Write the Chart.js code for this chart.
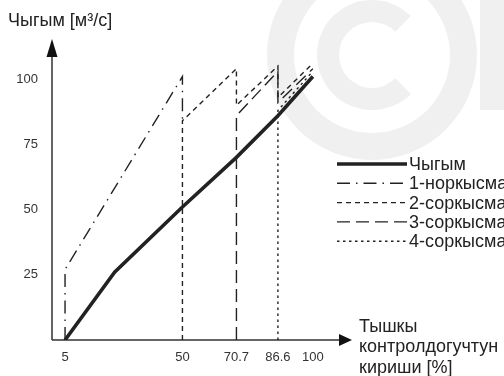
<!DOCTYPE html>
<html>
<head>
<meta charset="utf-8">
<script src="https://cdn.jsdelivr.net/npm/chart.js@4"></script>
<style>
  html, body { margin: 0; padding: 0; background: #fff; }
</style>
</head>
<body>
<canvas id="chart" width="504" height="376"></canvas>
<script>
// tick labels
const xTicks = [5, 50, 70.7, 86.6, 100];
const yTicks = [25, 50, 75, 100];

// series
const seriesNames = ['Чыгым', '1-норкысма', '2-соркысма', '3-соркысма', '4-соркысма'];
const flowX = [5, 24, 50, 70.7, 86.6, 100];
const flowY = [0, 26, 51, 70, 86, 101];
const normX = [5, 5, 50, 50];
const normY = [0, 27, 101, 84];
const sort2X = [50, 50, 70.7, 70.7, 86.6, 86.6, 100];
const sort2Y = [0, 84, 104, 90, 105, 93, 106];
const sort3X = [70.7, 70.7, 86.6, 86.6, 100];
const sort3Y = [0, 86, 103, 91, 104];
const sort4X = [86.6, 86.6, 100];
const sort4Y = [0, 88, 103];

const FONT = "'Liberation Sans', Arial, sans-serif";
const INK = '#222';

const toPoints = (xs, ys) => xs.map((x, i) => ({ x: x, y: ys[i] }));

const makeSet = (label, xs, ys, width, dash) => ({
    label: label,
    data: toPoints(xs, ys),
    showLine: true,
    borderColor: INK,
    borderWidth: width,
    borderDash: dash,
    borderCapStyle: 'butt',
    pointRadius: 0,
    tension: 0
});

// light grey logo in the background
const watermark = {
    id: 'watermark',
    beforeDraw(chart) {
        const ctx = chart.ctx;
        ctx.save();
        ctx.fillStyle = '#f0f0f0';
        ctx.beginPath();
        ctx.arc(372, 55, 105, 0, Math.PI * 2);
        ctx.arc(372, 55, 78, 0, Math.PI * 2, true);
        ctx.fill();
        ctx.beginPath();
        ctx.arc(372, 55, 55, Math.PI * 0.25, Math.PI * 1.75);
        ctx.arc(372, 55, 33, Math.PI * 1.75, Math.PI * 0.25, true);
        ctx.closePath();
        ctx.fill();
        ctx.fillRect(480, 0, 24, 110);
        ctx.restore();
    }
};

// axes with arrow heads
const arrowAxes = {
    id: 'arrowAxes',
    beforeDatasetsDraw(chart) {
        const ctx = chart.ctx;
        const xs = chart.scales.x;
        const ys = chart.scales.y;
        const x0 = xs.getPixelForValue(0);
        const y0 = ys.getPixelForValue(0);
        const xEnd = xs.getPixelForValue(115);
        const yEnd = ys.getPixelForValue(115);
        ctx.save();
        ctx.strokeStyle = '#333';
        ctx.fillStyle = '#111';
        ctx.lineWidth = 1.5;
        ctx.beginPath();
        ctx.moveTo(x0, y0);
        ctx.lineTo(xEnd - 10, y0);
        ctx.moveTo(x0, y0);
        ctx.lineTo(x0, yEnd + 14);
        ctx.stroke();
        ctx.beginPath();
        ctx.moveTo(xEnd, y0);
        ctx.lineTo(xEnd - 13, y0 - 6);
        ctx.lineTo(xEnd - 13, y0 + 6);
        ctx.closePath();
        ctx.fill();
        ctx.beginPath();
        ctx.moveTo(x0, yEnd - 1);
        ctx.lineTo(x0 - 5.5, yEnd + 17);
        ctx.lineTo(x0 + 5.5, yEnd + 17);
        ctx.closePath();
        ctx.fill();
        ctx.restore();
    }
};

// axis titles and legend
const labels = {
    id: 'labels',
    afterDraw(chart) {
        const ctx = chart.ctx;
        ctx.save();
        ctx.fillStyle = INK;
        ctx.textBaseline = 'middle';
        ctx.textAlign = 'left';
        ctx.font = '18px ' + FONT;
        ctx.fillText('Чыгым [м³/с]', 8, 21);
        ['Тышкы', 'контролдогучтун', 'кириши [%]'].forEach((t, i) => {
            ctx.fillText(t, 359, 327 + i * 20.5);
        });

        chart.data.datasets.forEach((ds, i) => {
            const y = 164 + i * 19.3;
            ctx.strokeStyle = ds.borderColor;
            ctx.lineWidth = ds.borderWidth;
            ctx.setLineDash(ds.borderDash || []);
            ctx.beginPath();
            ctx.moveTo(337, y);
            ctx.lineTo(407, y);
            ctx.stroke();
            ctx.fillText(ds.label, 409, y + 1);
        });
        ctx.restore();
    }
};

const tickFont = { family: FONT, size: 13 };

new Chart(document.getElementById('chart'), {
    type: 'scatter',
    data: {
        datasets: [
            makeSet(seriesNames[0], flowX, flowY, 3.6, []),
            makeSet(seriesNames[1], normX, normY, 1.4, [13, 6, 1.5, 6]),
            makeSet(seriesNames[2], sort2X, sort2Y, 1.4, [5, 4]),
            makeSet(seriesNames[3], sort3X, sort3Y, 1.4, [13, 6]),
            makeSet(seriesNames[4], sort4X, sort4Y, 1.4, [2.5, 3.5])
        ]
    },
    options: {
        responsive: false,
        animation: false,
        layout: { padding: { left: 0, top: 40, right: 152, bottom: 0 } },
        plugins: {
            legend: { display: false },
            tooltip: { enabled: false }
        },
        scales: {
            x: {
                type: 'linear',
                min: 0,
                max: 115,
                grid: { display: false, drawTicks: false },
                border: { display: false },
                afterBuildTicks: (s) => { s.ticks = xTicks.map(v => ({ value: v })); },
                afterFit: (s) => { s.height = 36; },
                ticks: {
                    color: '#333',
                    font: tickFont,
                    padding: 10,
                    autoSkip: false,
                    maxRotation: 0,
                    callback: (v) => String(v)
                }
            },
            y: {
                type: 'linear',
                min: 0,
                max: 115,
                grid: { display: false, drawTicks: false },
                border: { display: false },
                afterBuildTicks: (s) => { s.ticks = yTicks.map(v => ({ value: v })); },
                afterFit: (s) => { s.width = 52; },
                ticks: {
                    color: '#333',
                    font: tickFont,
                    padding: 14,
                    callback: (v) => String(v)
                }
            }
        }
    },
    plugins: [watermark, arrowAxes, labels]
});
</script>
</body>
</html>
